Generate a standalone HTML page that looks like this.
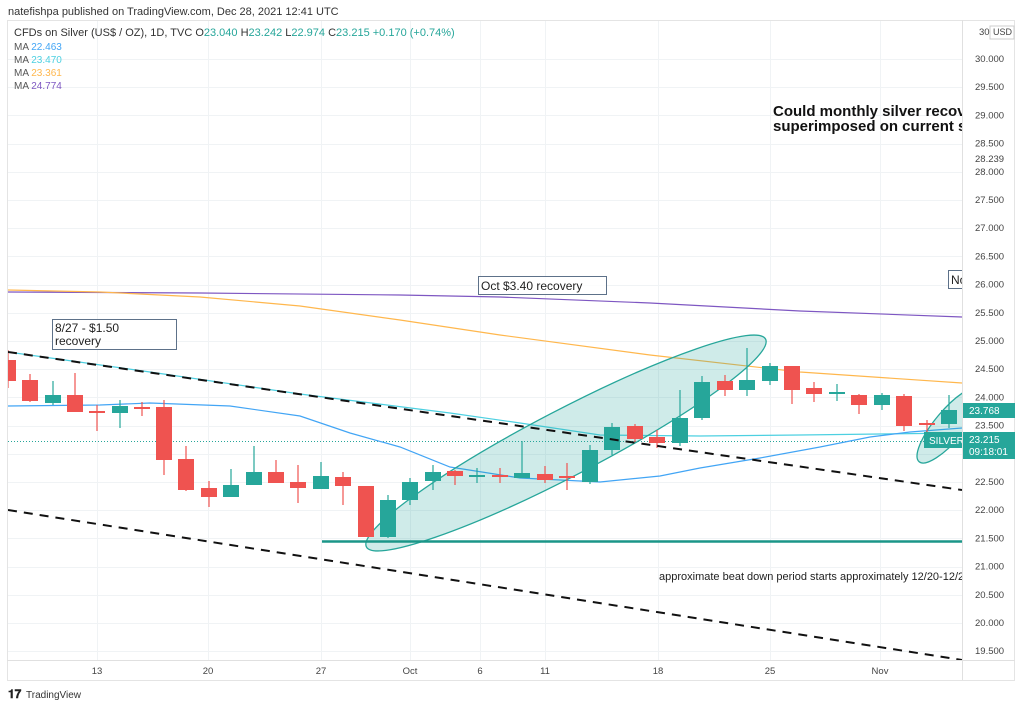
<!DOCTYPE html>
<html><head><meta charset="utf-8"><style>
body{margin:0;background:#fff;width:1023px;height:708px;overflow:hidden;font-family:"Liberation Sans",sans-serif}
svg{position:absolute;left:0;top:0}
</style></head><body>
<svg id="s" width="1023" height="708" xmlns="http://www.w3.org/2000/svg" font-family="Liberation Sans, sans-serif">
<text x="8" y="15" font-size="11" fill="#333">natefishpa published on TradingView.com, Dec 28, 2021 12:41 UTC</text>
<rect x="7.5" y="20.5" width="1007" height="660" fill="none" stroke="#e4e4e4"/>
<g id="grid" stroke="#f0f3f5" stroke-width="1"></g>
<line x1="962.5" y1="20" x2="962.5" y2="680" stroke="#e0e0e0"/>
<line x1="7" y1="660.5" x2="1015" y2="660.5" stroke="#e0e0e0"/>
<g clip-path="url(#c)">
<clipPath id="c"><rect x="8" y="21" width="954" height="639"/></clipPath>
<line x1="8" y1="441.5" x2="962" y2="441.5" stroke="#26a69a" stroke-dasharray="1,2" stroke-width="1"/>
<polyline fill="none" stroke="#7e57c2" stroke-width="1.2" points="8,292 200,293 400,295 500,297 650,303 800,311 962,317"/>
<polyline fill="none" stroke="#ffb74d" stroke-width="1.2" points="8,290 100,292 200,297 300,306 400,320 500,335 650,355 800,372 962,383"/>
<polyline fill="none" stroke="#4dd0e1" stroke-width="1.2" points="8,352 150,372 300,394 450,413 520,423 600,435 700,436 800,435 962,433"/>
<polyline fill="none" stroke="#42a5f5" stroke-width="1.2" points="8,406 100,405 150,403 230,406 300,416 350,433 400,447 450,467 520,478 600,482 660,476 700,468 760,458 820,447 870,437 910,432 962,428"/>
<ellipse cx="566" cy="443" rx="225" ry="33" transform="rotate(-27.5 566 443)" fill="#26a69a" fill-opacity="0.22" stroke="#26a69a" stroke-width="1.3"/>
<ellipse cx="950" cy="425" rx="48" ry="15" transform="rotate(-50 950 425)" fill="#26a69a" fill-opacity="0.22" stroke="#26a69a" stroke-width="1.3"/>
<g id="cd"></g>
<line x1="8" y1="352" x2="962" y2="490" stroke="#111" stroke-width="2" stroke-dasharray="9,7"/>
<line x1="8" y1="510" x2="962" y2="660" stroke="#111" stroke-width="2" stroke-dasharray="9,7"/>
<line x1="322" y1="541.5" x2="962" y2="541.5" stroke="#1b9688" stroke-width="2.5"/>
<rect x="52.5" y="319.5" width="124" height="30" fill="#fff" fill-opacity="0.8" stroke="#5d7189"/>
<text x="55" y="332" font-size="12" fill="#222">8/27 - $1.50</text>
<text x="55" y="345" font-size="12" fill="#222">recovery</text>
<rect x="478.5" y="276.5" width="128" height="18" fill="#fff" fill-opacity="0.8" stroke="#5d7189"/>
<text x="481" y="290" font-size="12" fill="#222">Oct $3.40 recovery</text>
<rect x="948.5" y="270.5" width="20" height="18" fill="#fff" stroke="#5d7189"/>
<text x="951" y="284" font-size="12" fill="#222">No</text>
<text x="773" y="116" font-size="15" font-weight="bold" fill="#111">Could monthly silver recovery</text>
<text x="773" y="131" font-size="15" font-weight="bold" fill="#111">superimposed on current silver</text>
<text x="659" y="580" font-size="11" fill="#222">approximate beat down period starts approximately 12/20-12/21</text>
<rect x="924" y="432" width="38" height="16" fill="#26a69a"/>
<text x="929" y="444" font-size="10" fill="#fff">SILVER</text>
</g>
<text x="14" y="36" font-size="11" fill="#333">CFDs on Silver (US$ / OZ), 1D, TVC  O<tspan fill="#26a69a">23.040</tspan>  H<tspan fill="#26a69a">23.242</tspan>  L<tspan fill="#26a69a">22.974</tspan>  C<tspan fill="#26a69a">23.215  +0.170 (+0.74%)</tspan></text>
<text x="14" y="50" font-size="10" fill="#555">MA <tspan fill="#42a5f5">22.463</tspan></text>
<text x="14" y="63" font-size="10" fill="#555">MA <tspan fill="#4dd0e1">23.470</tspan></text>
<text x="14" y="76" font-size="10" fill="#555">MA <tspan fill="#ffb74d">23.361</tspan></text>
<text x="14" y="89" font-size="10" fill="#555">MA <tspan fill="#7e57c2">24.774</tspan></text>
<g id="pl" font-size="9.5" fill="#444"></g>
<text x="979" y="35" font-size="9.5" fill="#444">30</text>
<text x="993" y="35" font-size="9" fill="#444">USD</text>
<rect x="990" y="26" width="24" height="13" fill="none" stroke="#ccc"/>
<text x="975" y="162" font-size="9.5" fill="#444">28.239</text>
<rect x="963" y="403" width="52" height="15" fill="#26a69a"/>
<text x="969" y="414" font-size="10" fill="#fff">23.768</text>
<rect x="963" y="432" width="52" height="27" fill="#26a69a"/>
<text x="969" y="443" font-size="10" fill="#fff">23.215</text>
<text x="969" y="455" font-size="10" fill="#fff">09:18:01</text>
<g font-size="9.5" fill="#444" text-anchor="middle">
<text x="97" y="674">13</text><text x="208" y="674">20</text><text x="321" y="674">27</text><text x="410" y="674">Oct</text><text x="480" y="674">6</text><text x="545" y="674">11</text><text x="658" y="674">18</text><text x="770" y="674">25</text><text x="880" y="674">Nov</text>
</g>
<text x="8" y="698" font-size="12" font-weight="bold" fill="#222">𝟏𝟕</text>
<text x="26" y="698" font-size="10" fill="#333">TradingView</text>
</svg>
<script>
var NS="http://www.w3.org/2000/svg";
function el(p,t,a){var e=document.createElementNS(NS,t);for(var k in a)e.setAttribute(k,a[k]);p.appendChild(e);return e;}
var g=document.getElementById('grid');
[97,208,321,410,480,545,658,770,880].forEach(function(x){el(g,'line',{x1:x+.5,y1:21,x2:x+.5,y2:660});});
var pl=document.getElementById('pl');
for(var p=30;p>=19.5;p-=0.5){var y=59+(30-p)*56.4;el(g,'line',{x1:8,y1:Math.round(y)+.5,x2:962,y2:Math.round(y)+.5});
var t=el(pl,'text',{x:975,y:y+3});t.textContent=p.toFixed(3);}
var C=[[8,360,381,350,388,'r'],[30,380,401,374,402,'r'],[53,395,403,381,405,'g'],[75,395,412,373,412,'r'],[97,411,413,405,431,'r'],[120,406,413,400,428,'g'],[142,407,409,402,416,'r'],[164,407,460,400,475,'r'],[186,459,490,446,491,'r'],[209,488,497,481,507,'r'],[231,485,497,469,497,'g'],[254,472,485,446,485,'g'],[276,472,483,460,483,'r'],[298,482,488,465,503,'r'],[321,476,489,462,489,'g'],[343,477,486,472,505,'r'],[366,486,537,486,537,'r'],[388,500,537,495,538,'g'],[410,482,500,478,505,'g'],[433,472,481,465,490,'g'],[455,471,476,470,485,'r'],[477,475,477,468,483,'g'],[500,475,477,468,483,'r'],[522,473,478,441,478,'g'],[545,474,480,466,483,'r'],[567,476,478,463,490,'r'],[590,450,482,445,484,'g'],[612,427,450,423,455,'g'],[635,426,439,424,442,'r'],[657,437,443,430,448,'r'],[680,418,443,390,446,'g'],[702,382,418,376,420,'g'],[725,381,390,375,396,'r'],[747,380,390,348,396,'g'],[770,366,381,363,385,'g'],[792,366,390,366,404,'r'],[814,388,394,382,402,'r'],[837,392,394,384,401,'g'],[859,395,405,394,414,'r'],[882,395,405,393,410,'g'],[904,396,426,394,431,'r'],[927,423,425,420,448,'r'],[949,410,424,395,428,'g']];
var cd=document.getElementById('cd');
C.forEach(function(c){var col=c[5]=='r'?'#ef5350':'#26a69a';
el(cd,'line',{x1:c[0],y1:c[3],x2:c[0],y2:c[4],stroke:col,'stroke-width':1.2});
el(cd,'rect',{x:c[0]-8,y:c[1],width:16,height:Math.max(2,c[2]-c[1]),fill:col});});
</script>
</body></html>
